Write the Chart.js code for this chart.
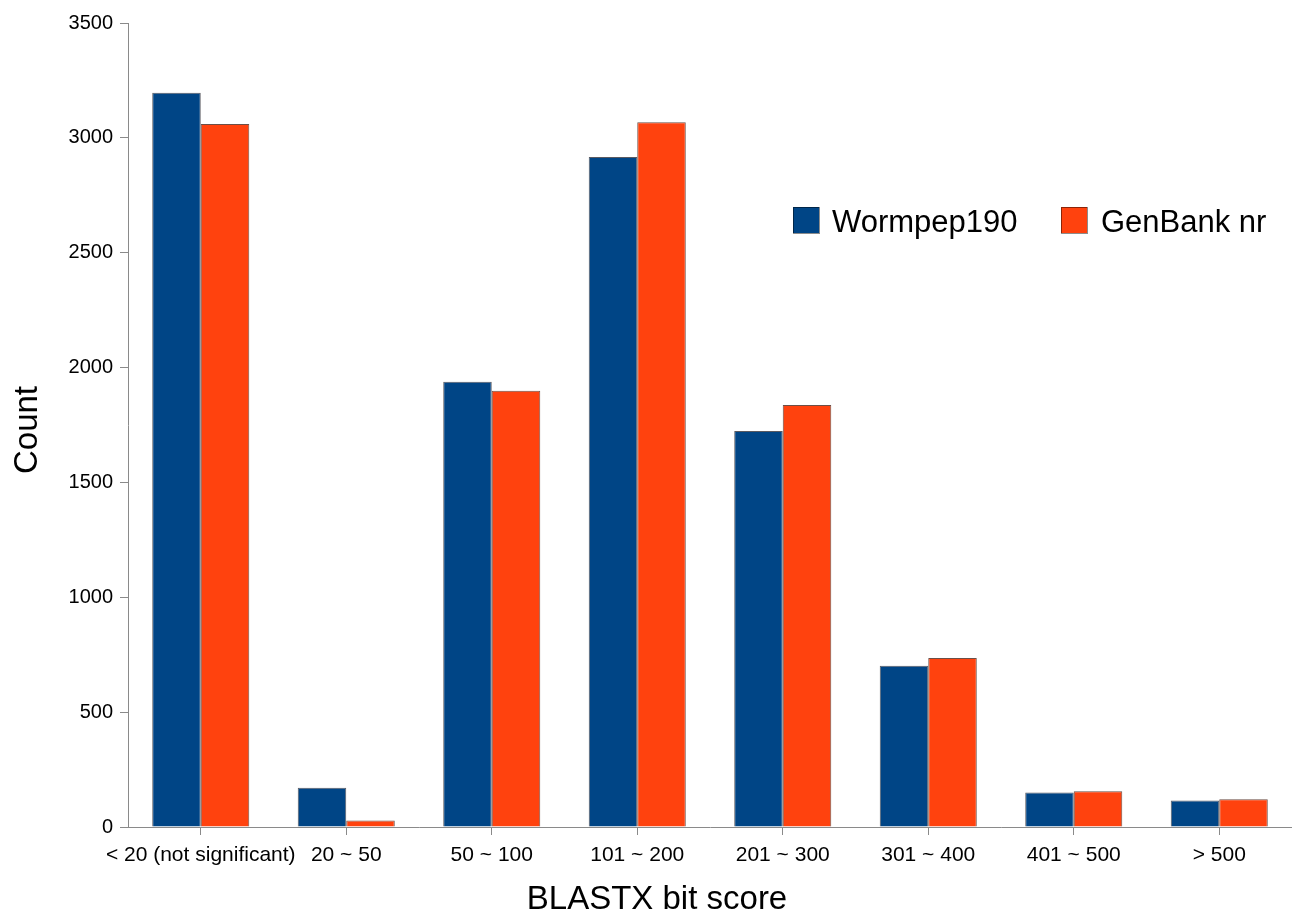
<!DOCTYPE html>
<html>
<head>
<meta charset="utf-8">
<script src="https://cdn.jsdelivr.net/npm/chart.js@4/dist/chart.umd.min.js"></script>
<style>
html,body{margin:0;padding:0;background:#fff;}
#wrap{width:1292px;height:915px;position:relative;}
</style>
</head>
<body>
<div id="wrap"><canvas id="c" width="1292" height="915"></canvas></div>
<script>
const categories = ["< 20 (not significant)", "20 ~ 50", "50 ~ 100", "101 ~ 200", "201 ~ 300", "301 ~ 400", "401 ~ 500", "> 500"];
const wormpep190 = [3196, 171, 1938, 2917, 1724, 702, 150, 115];
const genbankNr = [3060, 28, 1899, 3068, 1837, 736, 156, 121];
const seriesNames = ["Wormpep190", "GenBank nr"];
const seriesColors = ["#004586", "#ff420e"];
const yTicks = [0, 500, 1000, 1500, 2000, 2500, 3000, 3500];
const xTitle = "BLASTX bit score";
const yTitle = "Count";

const FONT = "'Liberation Sans', Arial, sans-serif";
const AXIS = "#8a8a8a";

const decorPlugin = {
  id: 'decor',
  afterDraw(chart) {
    const ctx = chart.ctx;
    ctx.save();
    // legend
    const pos = [{x: 793, t: 832}, {x: 1061, t: 1101}];
    chart.data.datasets.forEach((ds, i) => {
      const p = pos[i];
      ctx.fillStyle = ds.backgroundColor;
      ctx.fillRect(p.x, 207, 26, 26);
      ctx.strokeStyle = 'rgba(0,0,0,0.45)';
      ctx.lineWidth = 1;
      ctx.strokeRect(p.x + 0.5, 207.5, 26, 26);
      ctx.fillStyle = '#000';
      ctx.font = "31px " + FONT;
      ctx.textAlign = 'left';
      ctx.textBaseline = 'alphabetic';
      ctx.fillText(ds.label, p.t, 232);
    });
    // axis titles
    ctx.fillStyle = '#000';
    ctx.font = "33px " + FONT;
    ctx.textAlign = 'center';
    ctx.textBaseline = 'alphabetic';
    ctx.fillText(xTitle, 657, 909);
    ctx.translate(37, 430);
    ctx.rotate(-Math.PI / 2);
    ctx.fillText(yTitle, 0, 0);
    ctx.restore();
  }
};

new Chart(document.getElementById('c'), {
  type: 'bar',
  data: {
    labels: categories,
    datasets: [
      {label: seriesNames[0], data: wormpep190, backgroundColor: seriesColors[0], borderColor: 'rgba(20,20,30,0.7)', borderWidth: 1},
      {label: seriesNames[1], data: genbankNr, backgroundColor: seriesColors[1], borderColor: 'rgba(60,20,10,0.75)', borderWidth: 1}
    ]
  },
  options: {
    responsive: false,
    animation: false,
    devicePixelRatio: 1,
    layout: {padding: {top: 23, right: 0, left: 0, bottom: 0}},
    plugins: {legend: {display: false}, tooltip: {enabled: false}},
    datasets: {bar: {categoryPercentage: 0.667, barPercentage: 1.0}},
    scales: {
      x: {
        grid: {display: true, drawOnChartArea: false, offset: false, tickLength: 8, color: AXIS, lineWidth: 1},
        border: {display: true, color: AXIS, width: 1},
        ticks: {color: '#000', font: {family: FONT, size: 21}, padding: 8, maxRotation: 0, autoSkip: false},
        title: {display: false},
        afterFit(s) { s.height = 88; }
      },
      y: {
        min: 0, max: 3500,
        afterBuildTicks(s) { s.ticks = yTicks.map(v => ({value: v})); },
        grid: {display: true, drawOnChartArea: false, tickLength: 8, color: AXIS, lineWidth: 1},
        border: {display: true, color: AXIS, width: 1},
        ticks: {color: '#000', font: {family: FONT, size: 20}, padding: 7, callback: (v) => String(v)},
        title: {display: false},
        afterFit(s) { s.width = 128; }
      }
    }
  },
  plugins: [decorPlugin]
});
</script>
</body>
</html>
